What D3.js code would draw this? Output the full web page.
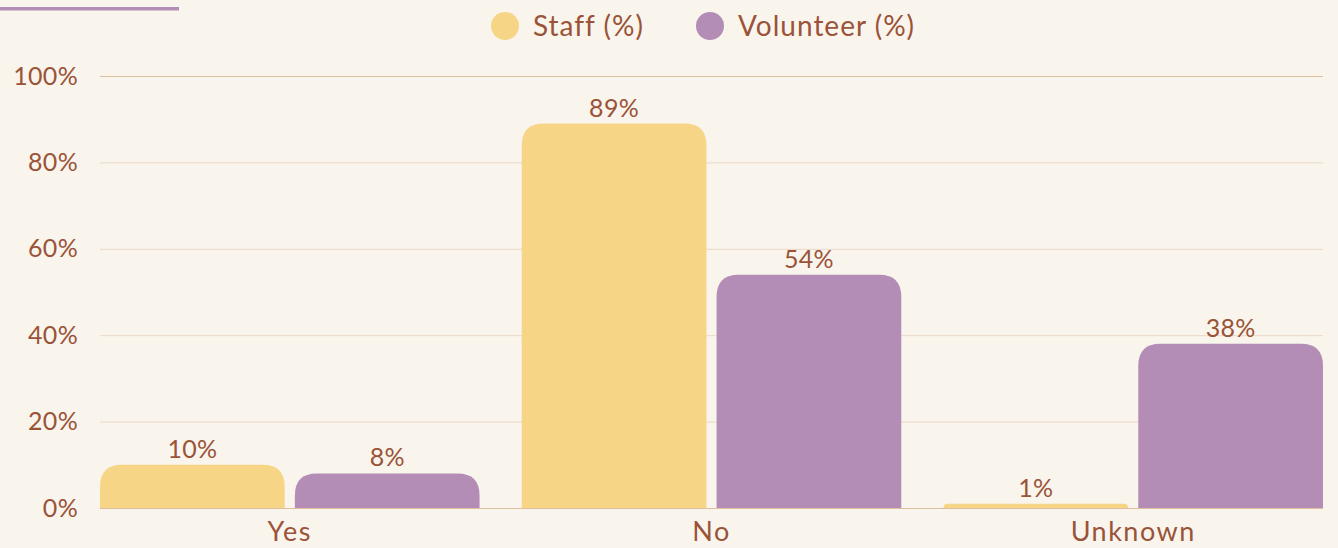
<!DOCTYPE html>
<html>
<head>
<meta charset="utf-8">
<script src="https://cdn.jsdelivr.net/npm/d3@7"></script>
<style>
  html, body { margin: 0; padding: 0; background: #f9f5ed; }
  svg { display: block; font-family: Lato, "Open Sans", sans-serif; }
</style>
</head>
<body>
<svg id="chart" width="1338" height="548"></svg>
<script>
// data
const categories = ['Yes', 'No', 'Unknown'];
const seriesNames = ['Staff (%)', 'Volunteer (%)'];
const staffValues = [10, 89, 1];
const volunteerValues = [8, 54, 38];
const yTicks = [0, 20, 40, 60, 80, 100];

const colors = ['#f6d686', '#b48db6'];
const textColor = '#9a5338';

const W = 1338, H = 548;
const plotLeft = 100, plotRight = 1323, plotTop = 76, plotBottom = 508;

const svg = d3.select('#chart');

svg.append('rect').attr('width', W).attr('height', H).attr('fill', '#f9f5ed');

// little accent line at top left
svg.append('rect')
  .attr('x', 0).attr('y', 7).attr('width', 179).attr('height', 3.5)
  .attr('fill', '#b48db6');

const x0 = d3.scaleBand()
  .domain(categories)
  .range([plotLeft, plotRight])
  .paddingInner(0.1)
  .paddingOuter(0);

const x1 = d3.scaleBand()
  .domain(seriesNames)
  .range([0, x0.bandwidth()])
  .paddingInner(0.052);

const y = d3.scaleLinear()
  .domain([0, 100])
  .range([plotBottom, plotTop]);

// grid
const grid = svg.append('g')
  .attr('transform', `translate(${plotLeft},0)`)
  .call(d3.axisLeft(y).tickValues(yTicks).tickSize(-(plotRight - plotLeft)).tickFormat(''));
grid.select('.domain').remove();
grid.selectAll('.tick line')
  .attr('stroke', d => d === 100 || d === 0 ? '#ddbf9f' : '#ebd8c4')
  .attr('stroke-width', 1);

// y labels
const yAxis = svg.append('g')
  .attr('transform', `translate(${plotLeft - 22},0)`)
  .call(d3.axisLeft(y).tickValues(yTicks).tickSize(0).tickFormat(d => d + '%'));
yAxis.select('.domain').remove();
yAxis.selectAll('text')
  .attr('x', 0)
  .attr('fill', textColor)
  .style('font-size', '25px')
  .style('letter-spacing', '0.3px')
  .style('font-family', 'Lato, sans-serif');

// rounded-top bar path
function topRounded(x, yTop, w, h, r) {
  r = Math.min(r, h, w / 2);
  return `M${x},${yTop + h}` +
    `V${yTop + r}` +
    `Q${x},${yTop} ${x + r},${yTop}` +
    `H${x + w - r}` +
    `Q${x + w},${yTop} ${x + w},${yTop + r}` +
    `V${yTop + h}Z`;
}

const rows = categories.map((c, i) => ({
  cat: c,
  vals: [
    { name: seriesNames[0], v: staffValues[i], k: 0 },
    { name: seriesNames[1], v: volunteerValues[i], k: 1 }
  ]
}));

const groups = svg.append('g').selectAll('g')
  .data(rows)
  .enter().append('g')
  .attr('transform', d => `translate(${x0(d.cat)},0)`);

groups.selectAll('path')
  .data(d => d.vals)
  .enter().append('path')
  .attr('fill', d => colors[d.k])
  .attr('d', d => topRounded(x1(d.name), y(d.v), x1.bandwidth(), plotBottom - y(d.v), 22));

groups.selectAll('text.value')
  .data(d => d.vals)
  .enter().append('text')
  .attr('class', 'value')
  .attr('x', d => x1(d.name) + x1.bandwidth() / 2)
  .attr('y', d => y(d.v) - 7)
  .attr('text-anchor', 'middle')
  .attr('fill', textColor)
  .style('font-size', '25px')
  .style('letter-spacing', '0.3px')
  .text(d => d.v + '%');

// x labels
const xAxis = svg.append('g')
  .attr('transform', `translate(0,${plotBottom})`)
  .call(d3.axisBottom(x0).tickSize(0));
xAxis.select('.domain').remove();
xAxis.selectAll('text')
  .attr('y', 0)
  .attr('dy', '33px')
  .attr('fill', textColor)
  .style('font-size', '27px')
  .style('letter-spacing', '1.5px')
  .style('font-family', 'Lato, sans-serif');

// legend
const legendX = [505, 710];
const legend = svg.append('g').selectAll('g')
  .data(seriesNames)
  .enter().append('g')
  .attr('transform', (d, i) => `translate(${legendX[i]},26)`);
legend.append('circle')
  .attr('r', 14)
  .attr('fill', (d, i) => colors[i]);
legend.append('text')
  .attr('x', 28)
  .attr('y', 9.5)
  .attr('fill', textColor)
  .style('font-size', '28px')
  .style('letter-spacing', '1px')
  .text(d => d);
</script>
</body>
</html>
